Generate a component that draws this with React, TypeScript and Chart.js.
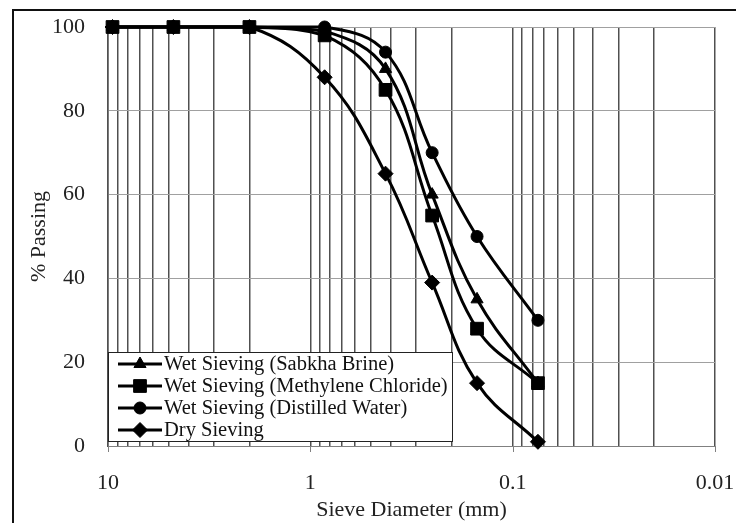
import React, { useEffect, useRef } from 'react';
import { Chart, registerables } from 'chart.js';
import { drawPoint } from 'chart.js/helpers';

Chart.register(...registerables);

// ---- data ----
const sieveSizes = [9.5, 4.75, 2.0, 0.85, 0.425, 0.25, 0.15, 0.075];
const sabkhaBrine = [100, 100, 100, 99, 90, 60, 35, 15];
const methyleneChloride = [100, 100, 100, 98, 85, 55, 28, 15];
const distilledWater = [100, 100, 100, 100, 94, 70, 50, 30];
const drySieving = [100, 100, 100, 88, 65, 39, 15, 1];

const seriesLabels = [
  'Wet Sieving (Sabkha Brine)',
  'Wet Sieving (Methylene Chloride)',
  'Wet Sieving (Distilled Water)',
  'Dry Sieving',
];
const seriesMarkers = ['triangle', 'rect', 'circle', 'rectRot'];
const seriesMarkerSizes = [7, 9, 6, 7.5];

const xGridValues = [
  10, 9, 8, 7, 6, 5, 4, 3, 2,
  1, 0.9, 0.8, 0.7, 0.6, 0.5, 0.4, 0.3, 0.2,
  0.1, 0.09, 0.08, 0.07, 0.06, 0.05, 0.04, 0.03, 0.02,
  0.01,
];
const xTickValues = [10, 1, 0.1, 0.01];
const xTickLabels = ['10', '1', '0.1', '0.01'];
const yMin = 0;
const yMax = 100;
const yStep = 20;

const xTitle = 'Sieve Diameter (mm)';
const yTitle = '% Passing';

const FONT = "'Liberation Serif', 'Times New Roman', serif";

const frameBorder = {
  id: 'frameBorder',
  beforeDraw(chart: any) {
    const { ctx, width, height } = chart;
    ctx.save();
    ctx.fillStyle = '#ffffff';
    ctx.fillRect(0, 0, width, height);
    ctx.fillStyle = '#111111';
    ctx.fillRect(12, 9, width - 12, 2);
    ctx.fillRect(12, 9, 2, height - 9);
    ctx.restore();
  },
};

const decadeTicks = {
  id: 'decadeTicks',
  afterDraw(chart: any) {
    const { ctx, chartArea, scales } = chart;
    ctx.save();
    ctx.strokeStyle = '#808080';
    ctx.lineWidth = 1;
    xTickValues.forEach((v) => {
      const x = Math.round(scales.x.getPixelForValue(v)) + 0.5;
      ctx.beginPath();
      ctx.moveTo(x, chartArea.bottom);
      ctx.lineTo(x, chartArea.bottom + 6);
      ctx.stroke();
    });
    ctx.restore();
  },
};

const insideLegend = {
  id: 'insideLegend',
  afterDatasetsDraw(chart: any) {
    const { ctx, chartArea } = chart;
    const boxLeft = chartArea.left;
    const boxRight = 452;
    const boxTop = 352;
    const boxBottom = chartArea.bottom - 5;
    ctx.save();
    ctx.fillStyle = '#ffffff';
    ctx.fillRect(boxLeft, boxTop, boxRight - boxLeft, boxBottom - boxTop);
    ctx.strokeStyle = '#222222';
    ctx.lineWidth = 1;
    ctx.strokeRect(boxLeft + 0.5, boxTop + 0.5, boxRight - boxLeft, boxBottom - boxTop);
    const rowH = 22;
    const firstY = 364;
    ctx.font = `20.5px ${FONT}`;
    ctx.textBaseline = 'middle';
    ctx.textAlign = 'left';
    chart.data.datasets.forEach((ds: any, i: number) => {
      const y = firstY + i * rowH;
      ctx.strokeStyle = '#000';
      ctx.lineWidth = 3;
      ctx.beginPath();
      ctx.moveTo(118, y);
      ctx.lineTo(162, y);
      ctx.stroke();
      ctx.fillStyle = '#000';
      ctx.strokeStyle = '#000';
      ctx.lineWidth = 1;
      drawPoint(ctx, { pointStyle: ds.pointStyle, rotation: 0, radius: ds.pointRadius, borderWidth: 1 } as any, 140, y);
      ctx.fillStyle = '#111';
      ctx.fillText(ds.label, 164, y + 1);
    });
    ctx.restore();
  },
};

const seriesValues = [sabkhaBrine, methyleneChloride, distilledWater, drySieving];

export default function App() {
  const ref = useRef<HTMLCanvasElement | null>(null);

  useEffect(() => {
    if (!ref.current) return;
    const chart = new Chart(ref.current, {
      type: 'line',
      data: {
        datasets: seriesValues.map((vals, i) => ({
          label: seriesLabels[i],
          data: sieveSizes.map((x, j) => ({ x, y: vals[j] })),
          borderColor: '#000',
          backgroundColor: '#000',
          borderWidth: 3,
          tension: 0.4,
          clip: false as any,
          pointStyle: seriesMarkers[i] as any,
          pointRadius: seriesMarkerSizes[i],
          pointBorderWidth: 1,
          pointBackgroundColor: '#000',
          pointBorderColor: '#000',
          fill: false,
        })),
      },
      options: {
        responsive: false,
        animation: false,
        devicePixelRatio: 1,
        layout: { padding: { top: 27, right: 21, left: 0, bottom: 0 } },
        plugins: {
          legend: { display: false },
          tooltip: { enabled: false },
        },
        scales: {
          x: {
            type: 'logarithmic',
            reverse: true,
            min: 0.01,
            max: 10,
            afterBuildTicks: (scale: any) => {
              scale.ticks = xGridValues.map((v) => ({ value: v, major: xTickValues.includes(v) }));
            },
            afterFit: (scale: any) => {
              scale.height = 77;
            },
            grid: {
              color: '#505050',
              lineWidth: 1.5,
              drawTicks: true,
              tickLength: 24,
              tickColor: 'rgba(0,0,0,0)',
            },
            border: { display: true, color: '#808080', width: 1 },
            ticks: {
              autoSkip: false,
              maxRotation: 0,
              padding: 0,
              color: '#222',
              font: { family: FONT, size: 22 },
              callback: (value: any) => {
                const idx = xTickValues.indexOf(Number(value));
                return idx >= 0 ? xTickLabels[idx] : '';
              },
            },
            title: {
              display: true,
              text: xTitle,
              color: '#222',
              font: { family: FONT, size: 22 },
              padding: { top: 0, bottom: 0 },
            },
          },
          y: {
            type: 'linear',
            min: yMin,
            max: yMax,
            afterFit: (scale: any) => {
              scale.width = 108;
            },
            grid: {
              color: '#a0a0a0',
              lineWidth: 1,
              drawTicks: true,
              tickLength: 23,
              tickColor: 'rgba(0,0,0,0)',
            },
            border: { display: true, color: '#505050', width: 1.5 },
            ticks: {
              stepSize: yStep,
              padding: 0,
              color: '#222',
              font: { family: FONT, size: 22 },
            },
            title: {
              display: true,
              text: yTitle,
              color: '#222',
              font: { family: FONT, size: 22 },
              padding: { top: 26, bottom: 0 },
            },
          },
        },
      },
      plugins: [frameBorder, insideLegend, decadeTicks],
    });
    return () => chart.destroy();
  }, []);

  return (
    <div style={{ position: 'absolute', left: 0, top: 0, width: 736, height: 523 }}>
      <canvas ref={ref} width={736} height={523} style={{ display: 'block' }} />
    </div>
  );
}
